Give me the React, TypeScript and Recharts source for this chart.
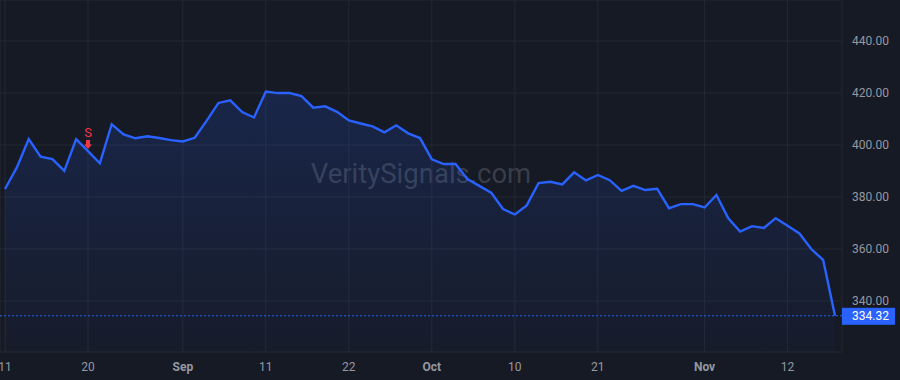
// Price chart with last-price tag and sell signal marker, dark theme.
import { Area, CartesianGrid, ComposedChart, ReferenceLine, XAxis, YAxis } from "recharts";

const dates = [
  "2025-08-11", "2025-08-12", "2025-08-13", "2025-08-14", "2025-08-15", "2025-08-18", "2025-08-19",
  "2025-08-20", "2025-08-21", "2025-08-22", "2025-08-25", "2025-08-26", "2025-08-27", "2025-08-28",
  "2025-08-29", "2025-09-02", "2025-09-03", "2025-09-04", "2025-09-05", "2025-09-08", "2025-09-09",
  "2025-09-10", "2025-09-11", "2025-09-12", "2025-09-15", "2025-09-16", "2025-09-17", "2025-09-18",
  "2025-09-19", "2025-09-22", "2025-09-23", "2025-09-24", "2025-09-25", "2025-09-26", "2025-09-29",
  "2025-09-30", "2025-10-01", "2025-10-02", "2025-10-03", "2025-10-06", "2025-10-07", "2025-10-08",
  "2025-10-09", "2025-10-10", "2025-10-13", "2025-10-14", "2025-10-15", "2025-10-16", "2025-10-17",
  "2025-10-20", "2025-10-21", "2025-10-22", "2025-10-23", "2025-10-24", "2025-10-27", "2025-10-28",
  "2025-10-29", "2025-10-30", "2025-10-31", "2025-11-03", "2025-11-04", "2025-11-05", "2025-11-06",
  "2025-11-07", "2025-11-10", "2025-11-11", "2025-11-12", "2025-11-13", "2025-11-14", "2025-11-17",
  "2025-11-18",
];

const closes = [
  383.1, 391.4, 402.3, 395.5, 394.6, 390.1, 402.3, 397.7, 393.0, 408.0, 404.1, 402.6, 403.4, 402.7,
  401.9, 401.4, 402.8, 409.3, 416.2, 417.2, 412.7, 410.6, 420.6, 420.0, 420.0, 418.8, 414.4, 414.9,
  412.8, 409.5, 408.3, 407.2, 404.9, 407.6, 404.5, 402.7, 394.5, 392.7, 392.7, 386.9, 384.3, 381.7,
  375.4, 373.3, 376.8, 385.4, 385.9, 384.9, 389.5, 386.4, 388.5, 386.5, 382.4, 384.3, 382.7, 383.2,
  375.7, 377.3, 377.3, 376.0, 380.8, 371.8, 366.7, 368.8, 368.1, 371.9, 369.0, 366.0, 360.0, 355.8,
  334.32,
];

const tickDates = [
  "2025-08-11", "2025-08-20", "2025-09-02", "2025-09-11", "2025-09-22",
  "2025-10-01", "2025-10-10", "2025-10-21", "2025-11-03", "2025-11-12",
];
const tickLabels = ["11", "20", "Sep", "11", "22", "Oct", "10", "21", "Nov", "12"];
const monthLabels = ["Sep", "Oct", "Nov"];
const priceTicks = [340, 360, 380, 400, 420, 440];

const signalDates = ["2025-08-20"];
const signalLabels = ["S"];

const lastPrice = closes[closes.length - 1];

const bg = "#161a25";
const grid = "#242834";
const blue = "#2962ff";
const red = "#f23645";
const text = "#9598a1";
const font = "Roboto, 'Liberation Sans', sans-serif";

const data = dates.map((d, i) => ({ d, close: closes[i] }));

function DateTick({ x, y, payload }: any) {
  const label = tickLabels[tickDates.indexOf(payload.value)] ?? "";
  const month = monthLabels.includes(label);
  return (
    <text x={x} y={y} dy={11} textAnchor="middle" fontSize={12} fill={text}
          fontWeight={month ? 700 : 400} fontFamily={font}>
      {label}
    </text>
  );
}

function SignalDot(props: any) {
  const { cx, cy, payload, index } = props;
  const k = signalDates.indexOf(payload?.d);
  if (k < 0 || cx == null || cy == null) return <g key={index} />;
  return (
    <g key={index}>
      <text x={cx} y={cy - 14} textAnchor="middle" fontSize={13} fill={red} fontFamily={font}>
        {signalLabels[k]}
      </text>
      <path
        d={`M${cx - 2} ${cy - 11} h4 v4.5 h2 l-4 4.5 l-4 -4.5 h2 z`}
        fill={red}
      />
    </g>
  );
}

function PriceTag({ viewBox }: any) {
  if (!viewBox) return null;
  const x = viewBox.x + viewBox.width;
  const y = viewBox.y;
  return (
    <g>
      <rect x={x} y={y - 8} width={53} height={17} fill={blue} />
      <text x={x + 10} y={y + 4.5} fontSize={12} fill="#ffffff" fontFamily={font}>
        {lastPrice.toFixed(2)}
      </text>
    </g>
  );
}

export default function App() {
  return (
    <div style={{ position: "fixed", left: 0, top: 0, width: 900, height: 380, background: bg, overflow: "hidden" }}>
      <div style={{
        position: "absolute", left: 0, top: 0, width: 842, height: 346,
        display: "flex", alignItems: "center", justifyContent: "center",
        fontFamily: font, fontSize: 27.5, color: "rgba(149,152,161,0.3)",
      }}>
        VeritySignals.com
      </div>
      <div style={{ position: "absolute", left: 0, top: 0 }}>
        <ComposedChart width={900} height={380} data={data} margin={{ top: 0, right: 0, left: 0, bottom: 0 }}>
          <defs>
            <linearGradient id="priceFill" x1="0" y1="0" x2="0" y2="1">
              <stop offset="0%" stopColor={blue} stopOpacity={0.28} />
              <stop offset="100%" stopColor={blue} stopOpacity={0.04} />
            </linearGradient>
          </defs>
          <CartesianGrid stroke={grid} strokeWidth={1} />
          <XAxis dataKey="d" ticks={tickDates} interval={0} height={28} axisLine={false} tickLine={false}
                 padding={{ left: 5, right: 7 }} tick={<DateTick />} />
          <YAxis orientation="right" width={58} domain={[320.4, 455.8]} ticks={priceTicks}
                 allowDataOverflow axisLine={false} tickLine={false} tickMargin={4}
                 tickFormatter={(v: number) => v.toFixed(2)}
                 tick={{ fontSize: 12, fill: text, fontFamily: font }} />
          <Area isAnimationActive={false} type="linear" dataKey="close" stroke={blue} strokeWidth={2.4}
                fill="url(#priceFill)" dot={SignalDot} activeDot={false} />
          <ReferenceLine y={lastPrice} stroke={blue} strokeDasharray="2 2" label={<PriceTag />} />
        </ComposedChart>
      </div>
    </div>
  );
}
